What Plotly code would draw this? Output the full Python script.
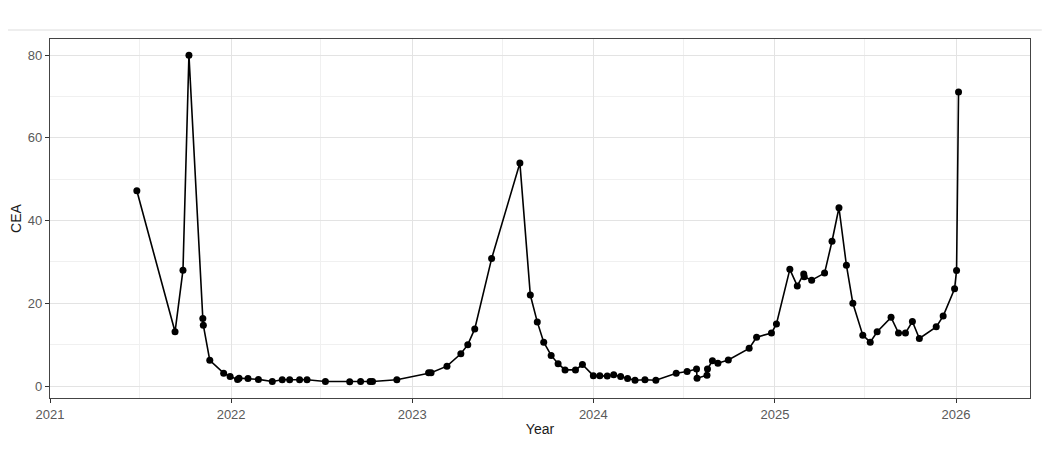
import plotly.graph_objects as go

dates = [
    "2021-06-25", "2021-09-10", "2021-09-26", "2021-10-08", "2021-11-05", "2021-11-06",
    "2021-11-19", "2021-12-17", "2021-12-30", "2022-01-14", "2022-01-17", "2022-02-04",
    "2022-02-25", "2022-03-25", "2022-04-14", "2022-04-29", "2022-05-19", "2022-06-03",
    "2022-07-10", "2022-08-28", "2022-09-19", "2022-10-08", "2022-10-13", "2022-12-01",
    "2023-02-03", "2023-02-08", "2023-03-12", "2023-04-09", "2023-04-23", "2023-05-07",
    "2023-06-10", "2023-08-06", "2023-08-27", "2023-09-10", "2023-09-23", "2023-10-08",
    "2023-10-22", "2023-11-05", "2023-11-26", "2023-12-10", "2024-01-01", "2024-01-14",
    "2024-01-29", "2024-02-11", "2024-02-25", "2024-03-10", "2024-03-25", "2024-04-14",
    "2024-05-06", "2024-06-16", "2024-07-08", "2024-07-27", "2024-07-28", "2024-08-17",
    "2024-08-18", "2024-08-28", "2024-09-08", "2024-09-29", "2024-11-10", "2024-11-25",
    "2024-12-25", "2025-01-04", "2025-01-31", "2025-02-15", "2025-02-28", "2025-03-01",
    "2025-03-16", "2025-04-11", "2025-04-26", "2025-05-10", "2025-05-25", "2025-06-07",
    "2025-06-27", "2025-07-12", "2025-07-26", "2025-08-23", "2025-09-07", "2025-09-21",
    "2025-10-05", "2025-10-19", "2025-11-22", "2025-12-06", "2025-12-29", "2026-01-02",
    "2026-01-06",
]
cea = [
    47.2, 13.1, 28.0, 80.0, 16.3, 14.7,
    6.2, 3.1, 2.3, 1.6, 1.9, 1.8,
    1.6, 1.1, 1.5, 1.5, 1.5, 1.5,
    1.1, 1.0, 1.1, 1.1, 1.1, 1.5,
    3.2, 3.2, 4.8, 7.8, 10.0, 13.8,
    30.8, 53.9, 22.0, 15.5, 10.6, 7.4,
    5.4, 3.9, 3.9, 5.2, 2.5, 2.5,
    2.4, 2.7, 2.3, 1.8, 1.4, 1.5,
    1.4, 3.1, 3.5, 4.1, 1.9, 2.6,
    4.1, 6.1, 5.5, 6.3, 9.1, 11.8,
    12.8, 15.0, 28.2, 24.2, 27.1, 26.4,
    25.6, 27.3, 35.0, 43.1, 29.2, 20.0,
    12.3, 10.6, 13.1, 16.6, 12.8, 12.8,
    15.6, 11.5, 14.3, 16.9, 23.5, 27.9,
    71.1,
]

x_ticks = ["2021-01-01", "2022-01-01", "2023-01-01", "2024-01-01", "2025-01-01", "2026-01-01"]
x_tick_labels = ["2021", "2022", "2023", "2024", "2025", "2026"]
y_ticks = [0, 20, 40, 60, 80]

fig = go.Figure()
fig.add_trace(go.Scatter(
    x=dates, y=cea, mode="lines+markers",
    line=dict(color="black", width=1.6),
    marker=dict(color="black", size=7),
    showlegend=False,
))

axis_common = dict(
    showline=True, mirror=True, linecolor="#444444", linewidth=1.4,
    ticks="outside", ticklen=4, tickcolor="#333333", tickwidth=1,
    gridcolor="#e3e3e3", gridwidth=1.3, zeroline=False, automargin=False,
    tickfont=dict(family="Liberation Sans, Arial", size=13, color="#595959"),
    title_font=dict(family="Liberation Sans, Arial", size=14, color="#1a1a1a"),
)

fig.update_xaxes(
    **axis_common,
    type="date",
    range=["2021-01-01", "2026-05-30"],
    tickvals=x_ticks, ticktext=x_tick_labels,
    minor=dict(dtick="M6", tick0="2021-01-01", showgrid=True, gridcolor="#f0f0f0", gridwidth=1, ticks=""),
    title_text="Year", title_standoff=3,
)
fig.update_yaxes(
    **axis_common,
    range=[-2.9, 83.9],
    tickvals=y_ticks,
    minor=dict(dtick=10, tick0=0, showgrid=True, gridcolor="#f0f0f0", gridwidth=1, ticks=""),
    title_text="CEA", title_standoff=6,
)

fig.add_shape(type="line", xref="paper", yref="paper", x0=-0.06, x1=1.012, y0=1.025, y1=1.025,
              line=dict(color="#eeeeee", width=2))

fig.update_layout(
    width=1052, height=449,
    margin=dict(l=42, r=30, t=31, b=59),
    paper_bgcolor="white", plot_bgcolor="white",
    font=dict(family="Liberation Sans, Arial"),
)

fig.write_html("out.html")
